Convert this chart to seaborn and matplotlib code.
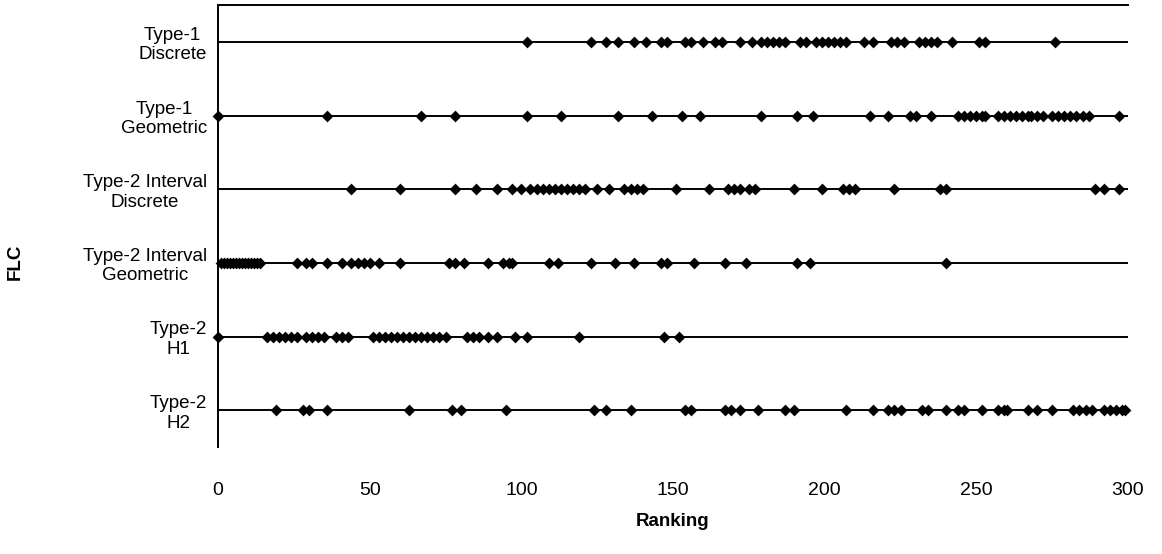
import matplotlib
matplotlib.use("Agg")
import matplotlib.pyplot as plt
import seaborn as sns
import pandas as pd

# Ranking positions for each fuzzy logic controller type
flc_labels = [
    "Type-1\nDiscrete",
    "Type-1\nGeometric",
    "Type-2 Interval\nDiscrete",
    "Type-2 Interval\nGeometric",
    "Type-2\nH1",
    "Type-2\nH2",
]

type1_discrete = [102, 123, 128, 132, 137, 141, 146, 148, 154, 156, 160, 164, 166,
                  172, 176, 179, 181, 183, 185, 187, 192, 194, 197, 199, 201, 203,
                  205, 207, 213, 216, 222, 224, 226, 231, 233, 235, 237, 242, 251,
                  253, 276]
type1_geometric = [0, 36, 67, 78, 102, 113, 132, 143, 153, 159, 179, 191, 196, 215,
                   221, 228, 230, 235, 244, 246, 248, 250, 252, 253, 257, 259, 261,
                   263, 265, 267, 268, 270, 272, 275, 277, 279, 281, 283, 285, 287,
                   297]
type2_int_discrete = [44, 60, 78, 85, 92, 97, 100, 103, 105, 107, 109, 111, 113, 115,
                      117, 119, 121, 125, 129, 134, 136, 138, 140, 151, 162, 168, 170,
                      172, 175, 177, 190, 199, 206, 208, 210, 223, 238, 240, 289, 292,
                      297]
type2_int_geometric = [1, 2, 3, 4, 5, 6, 7, 8, 9, 10, 11, 12, 13, 14, 26, 29, 31, 36,
                       41, 44, 46, 48, 50, 53, 60, 76, 78, 81, 89, 94, 96, 97, 109, 112,
                       123, 131, 137, 146, 148, 157, 167, 174, 191, 195, 240]
type2_h1 = [0, 16, 18, 20, 22, 24, 26, 29, 31, 33, 35, 39, 41, 43, 51, 53, 55, 57, 59,
            61, 63, 65, 67, 69, 71, 73, 75, 82, 84, 86, 89, 92, 98, 102, 119, 147, 152]
type2_h2 = [19, 28, 30, 36, 63, 77, 80, 95, 124, 128, 136, 154, 156, 167, 169, 172, 178,
            187, 190, 207, 216, 221, 223, 225, 232, 234, 240, 244, 246, 252, 257, 259,
            260, 267, 270, 275, 282, 284, 286, 288, 292, 294, 296, 298, 299]

x_ticks = [0, 50, 100, 150, 200, 250, 300]

series = [type1_discrete, type1_geometric, type2_int_discrete,
          type2_int_geometric, type2_h1, type2_h2]
df = pd.DataFrame({
    "Ranking": [v for vals in series for v in vals],
    "FLC": [lab for lab, vals in zip(flc_labels, series) for _ in vals],
})

sns.set_style("white")
plt.rcParams["font.family"] = ["Liberation Sans", "DejaVu Sans"]
plt.rcParams["text.color"] = "black"
plt.rcParams["axes.labelcolor"] = "black"
plt.rcParams["xtick.color"] = "black"
plt.rcParams["ytick.color"] = "black"

fig = plt.figure(figsize=(11.62, 5.54), dpi=100)
ax = fig.add_axes([218 / 1162, 1 - 447 / 554, 910 / 1162, 442 / 554])

# horizontal guide line through each row
for i in range(len(flc_labels)):
    ax.axhline(i, color="black", lw=1.4, zorder=1)

sns.stripplot(data=df, x="Ranking", y="FLC", order=flc_labels, jitter=False,
              marker="D", s=6, color="black", linewidth=0, ax=ax, zorder=3,
              clip_on=False)

ax.set_xlim(0, 300)
ax.set_ylim(5.5, -0.5)
ax.set_xticks(x_ticks)
ax.set_xticklabels([str(t) for t in x_ticks], fontsize=14)
ax.tick_params(axis="x", length=0, pad=25)
ax.tick_params(axis="y", length=8, direction="inout", width=1.2, pad=4,
               labelsize=13.5)
for lbl in ax.get_yticklabels():
    lbl.set_multialignment("center")

for side in ["right", "bottom"]:
    ax.spines[side].set_visible(False)
for side in ["left", "top"]:
    ax.spines[side].set_visible(True)
    ax.spines[side].set_color("black")
    ax.spines[side].set_linewidth(1.4)

ax.set_xlabel("Ranking", fontsize=13.5, fontweight="bold", labelpad=10)
ax.set_ylabel("FLC", fontsize=13.5, fontweight="bold")
ax.yaxis.set_label_coords(-0.213, 0.42)

fig.savefig("out.png", dpi=100)
